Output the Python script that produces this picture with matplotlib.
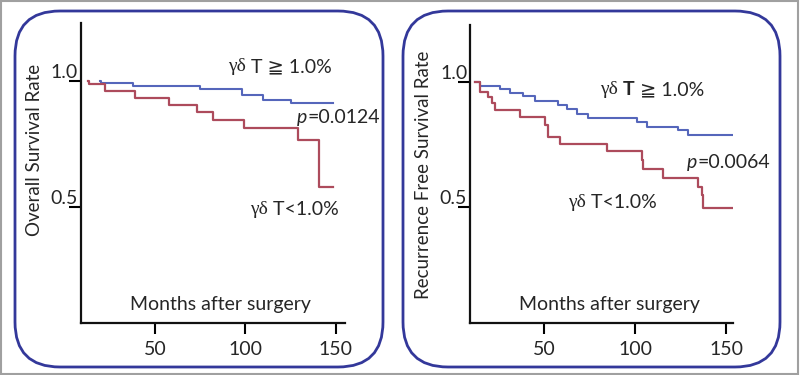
import matplotlib
matplotlib.use("Agg")
import matplotlib.pyplot as plt
from matplotlib.patches import FancyBboxPatch, Rectangle

# overall survival (left panel)
os_months_hi = [19.6, 20.5, 37.8, 74.9, 98.0, 109.7, 125.0, 148.3]
os_rate_hi = [1.0, 0.993, 0.980, 0.968, 0.944, 0.925, 0.913, 0.913]
os_months_lo = [13.0, 13.8, 22.4, 39.0, 57.7, 73.2, 82.0, 99.2, 129.0, 140.6, 148.3]
os_rate_lo = [1.0, 0.988, 0.958, 0.933, 0.905, 0.877, 0.845, 0.813, 0.766, 0.579, 0.579]

# recurrence free survival (right panel)
rfs_months_hi = [12.1, 14.8, 25.8, 31.3, 38.5, 45.0, 57.7, 62.6, 68.1, 74.2,
                 101.0, 106.6, 123.6, 129.1, 153.8]
rfs_rate_hi = [1.0, 0.984, 0.971, 0.957, 0.944, 0.925, 0.908, 0.891, 0.871, 0.855,
               0.841, 0.821, 0.808, 0.788, 0.788]
rfs_months_lo = [12.1, 14.8, 19.2, 21.4, 23.1, 36.8, 50.5, 52.2, 58.8, 84.6,
                 103.8, 104.4, 115.4, 134.6, 136.8, 137.4, 153.3]
rfs_rate_lo = [1.0, 0.961, 0.941, 0.915, 0.888, 0.859, 0.828, 0.779, 0.752, 0.725,
               0.688, 0.651, 0.615, 0.581, 0.548, 0.495, 0.495]

x_ticks = [50, 100, 150]
y_ticks = [0.5, 1.0]
y_tick_labels = ["0.5", "1.0"]

BLUE = "#5566bb"
RED = "#ad4b5c"
FRAME = "#33389a"
TXT = "#262626"
SANS = ["Lato", "DejaVu Sans"]
SERIF = ["Liberation Serif", "DejaVu Serif"]
FS = 14

fig = plt.figure(figsize=(8, 3.75), dpi=100)

# background layer in pixel units for the rounded frames
bg = fig.add_axes([0, 0, 1, 1], zorder=0)
bg.set_xlim(0, 800)
bg.set_ylim(375, 0)
bg.axis("off")
bg.add_patch(Rectangle((1, 1), 797, 373, fill=False, ec="#a0a0a0", lw=1.5))
for x0, x1 in [(15, 383), (403, 780)]:
    bg.add_patch(FancyBboxPatch((x0 + 45, 11 + 45), x1 - x0 - 90, 356 - 90,
                                boxstyle="round,pad=45", fill=False,
                                ec=FRAME, lw=2.0))


def label(ax, x, y, pieces):
    # pieces: list of (text, family, style, weight), chained left to right
    prev = None
    for txt, fam, style, weight in pieces:
        if prev is None:
            prev = ax.text(x, y, txt, family=fam, style=style, weight=weight,
                           fontsize=FS, color=TXT, va="center", ha="left")
        else:
            prev = ax.annotate(txt, xy=(1, 0), xycoords=prev, va="bottom", ha="left",
                               family=fam, style=style, weight=weight,
                               fontsize=FS, color=TXT)


def setup(ax, xlim, ylim, ylabel, lab_xy):
    ax.set_facecolor("none")
    ax.set_xlim(*xlim)
    ax.set_ylim(*ylim)
    for s in ["top", "right"]:
        ax.spines[s].set_visible(False)
    for s in ["left", "bottom"]:
        ax.spines[s].set_linewidth(1.6)
        ax.spines[s].set_color("#111111")
    ax.set_xticks(x_ticks)
    ax.set_yticks(y_ticks)
    ax.set_yticklabels(y_tick_labels)
    ax.tick_params(axis="x", length=8, width=1.5, pad=5, labelsize=FS, labelcolor=TXT)
    ax.tick_params(axis="y", length=9, width=1.5, pad=-7, labelsize=FS, labelcolor=TXT)
    for t in ax.get_yticklabels() + ax.get_xticklabels():
        t.set_family(SANS)
    for t in ax.get_yticklabels():
        t.set_va("bottom")
    ax.set_ylabel(ylabel, fontsize=13.5, family=SANS, color=TXT)
    ax.yaxis.set_label_coords(*lab_xy)


# left panel
ax1 = fig.add_axes([0.101, 0.139, 0.33, 0.80], zorder=1)
setup(ax1, (9.1, 155), (0.04, 1.23), "Overall Survival Rate", (-0.144, 0.577))
ax1.step(os_months_hi, os_rate_hi, where="post", color=BLUE, lw=1.5)
ax1.step(os_months_lo, os_rate_lo, where="post", color=RED, lw=1.6)
label(ax1, 90.3, 1.056, [("γδ", SERIF, "normal", "normal"),
                          (" T ≧ 1.0%", SANS, "normal", "normal")])
label(ax1, 128.5, 0.853, [("p", SANS, "italic", "normal"),
                           ("=0.0124", SANS, "normal", "normal")])
label(ax1, 102.5, 0.488, [("γδ", SERIF, "normal", "normal"),
                           (" T<1.0%", SANS, "normal", "normal")])
ax1.text(86, 0.111, "Months after surgery", family=SANS, fontsize=FS, color=TXT,
         ha="center", va="center")

# right panel
ax2 = fig.add_axes([0.5875, 0.139, 0.3288, 0.795], zorder=1)
setup(ax2, (9.3, 153.8), (0.036, 1.228), "Recurrence Free Survival Rate", (-0.144, 0.498))
ax2.step(rfs_months_hi, rfs_rate_hi, where="post", color=BLUE, lw=1.5)
ax2.step(rfs_months_lo, rfs_rate_lo, where="post", color=RED, lw=1.6)
label(ax2, 80.8, 0.968, [("γδ ", SERIF, "normal", "normal"),
                          ("T", SANS, "normal", "bold"),
                          (" ≧ 1.0%", SANS, "normal", "normal")])
label(ax2, 128.6, 0.676, [("p", SANS, "italic", "normal"),
                           ("=0.0064", SANS, "normal", "normal")])
label(ax2, 63.2, 0.516, [("γδ", SERIF, "normal", "normal"),
                          (" T<1.0%", SANS, "normal", "normal")])
ax2.text(85.7, 0.108, "Months after surgery", family=SANS, fontsize=FS, color=TXT,
         ha="center", va="center")

fig.savefig("out.png", dpi=100)
